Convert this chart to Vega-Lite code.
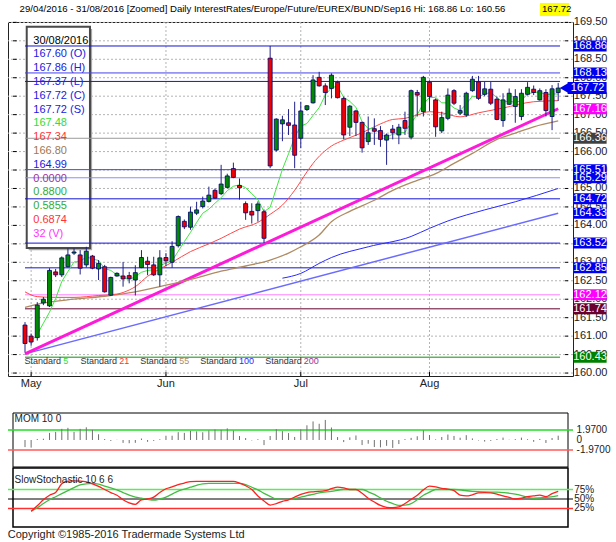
{
"$schema": "https://vega.github.io/schema/vega-lite/v6.json",
"width": 565,
"height": 354,
"autosize": {"type": "none"},
"padding": {"left": 8, "top": 22, "right": 43, "bottom": 166},
"background": "#ffffff",
"config": {"view": {"stroke": "#222222", "strokeWidth": 1}, "font": "Liberation Sans"},
"datasets": {
"ohlc": [
{"i":0,"o":161.30,"h":161.38,"l":160.56,"c":160.80,"s5":null,"m":-1.40},
{"i":1,"o":161.00,"h":161.07,"l":160.74,"c":160.84,"s5":160.85,"m":-1.50},
{"i":2,"o":160.96,"h":161.92,"l":160.88,"c":161.84,"s5":161.05,"m":0.20},
{"i":3,"o":161.90,"h":162.06,"l":161.84,"c":162.00,"s5":161.35,"m":0.25},
{"i":4,"o":161.82,"h":162.84,"l":161.79,"c":162.78,"s5":161.65,"m":1.40},
{"i":5,"o":162.74,"h":162.82,"l":162.60,"c":162.66,"s5":162.02,"m":1.60},
{"i":6,"o":162.66,"h":163.16,"l":162.60,"c":163.12,"s5":162.48,"m":2.20},
{"i":7,"o":162.88,"h":163.38,"l":162.86,"c":163.20,"s5":162.75,"m":2.40},
{"i":8,"o":163.25,"h":163.38,"l":163.20,"c":163.28,"s5":163.01,"m":1.60},
{"i":9,"o":163.20,"h":163.33,"l":162.67,"c":162.84,"s5":163.02,"m":2.20},
{"i":10,"o":162.93,"h":163.42,"l":162.86,"c":163.30,"s5":163.15,"m":2.50},
{"i":11,"o":163.17,"h":163.20,"l":162.81,"c":162.84,"s5":163.09,"m":2.00},
{"i":12,"o":162.82,"h":163.06,"l":162.52,"c":162.97,"s5":163.05,"m":1.13},
{"i":13,"o":162.88,"h":162.93,"l":162.18,"c":162.20,"s5":162.83,"m":0.20},
{"i":14,"o":162.11,"h":162.61,"l":162.09,"c":162.59,"s5":162.78,"m":-0.19},
{"i":15,"o":162.63,"h":162.73,"l":162.61,"c":162.70,"s5":162.66,"m":0.04},
{"i":16,"o":162.63,"h":163.01,"l":162.34,"c":162.55,"s5":162.60,"m":-0.57},
{"i":17,"o":162.64,"h":162.74,"l":162.43,"c":162.56,"s5":162.52,"m":-0.64},
{"i":18,"o":162.52,"h":162.92,"l":162.10,"c":162.72,"s5":162.62,"m":-0.56},
{"i":19,"o":162.86,"h":163.33,"l":162.84,"c":163.13,"s5":162.73,"m":0.29},
{"i":20,"o":163.03,"h":163.15,"l":162.65,"c":162.94,"s5":162.78,"m":-0.36},
{"i":21,"o":162.93,"h":163.15,"l":162.63,"c":162.66,"s5":162.80,"m":-0.18},
{"i":22,"o":162.66,"h":163.33,"l":162.34,"c":163.12,"s5":162.91,"m":0.15},
{"i":23,"o":163.13,"h":163.25,"l":162.90,"c":163.04,"s5":162.98,"m":0.84},
{"i":24,"o":163.00,"h":163.57,"l":162.85,"c":163.43,"s5":163.04,"m":0.84},
{"i":25,"o":163.45,"h":164.27,"l":163.40,"c":164.24,"s5":163.30,"m":1.54},
{"i":26,"o":164.11,"h":164.16,"l":163.90,"c":163.96,"s5":163.56,"m":1.41},
{"i":27,"o":163.95,"h":164.51,"l":163.88,"c":164.36,"s5":163.81,"m":1.80},
{"i":28,"o":164.33,"h":164.64,"l":164.28,"c":164.42,"s5":164.08,"m":1.70},
{"i":29,"o":164.51,"h":164.78,"l":164.46,"c":164.66,"s5":164.33,"m":1.53},
{"i":30,"o":164.65,"h":165.05,"l":164.62,"c":164.82,"s5":164.44,"m":1.88},
{"i":31,"o":164.95,"h":165.00,"l":164.72,"c":164.74,"s5":164.60,"m":2.08},
{"i":32,"o":164.86,"h":165.64,"l":164.82,"c":165.12,"s5":164.75,"m":2.00},
{"i":33,"o":165.03,"h":165.40,"l":165.00,"c":165.34,"s5":164.94,"m":2.30},
{"i":34,"o":165.54,"h":165.70,"l":165.28,"c":165.30,"s5":165.06,"m":1.87},
{"i":35,"o":165.08,"h":165.27,"l":164.70,"c":165.02,"s5":165.10,"m":0.78},
{"i":36,"o":164.59,"h":164.65,"l":164.15,"c":164.34,"s5":165.02,"m":0.38},
{"i":37,"o":164.38,"h":164.60,"l":164.05,"c":164.28,"s5":164.86,"m":-0.08},
{"i":38,"o":164.40,"h":164.65,"l":164.10,"c":164.58,"s5":164.70,"m":0.16},
{"i":39,"o":164.37,"h":164.43,"l":163.52,"c":163.65,"s5":164.37,"m":-1.01},
{"i":40,"o":168.53,"h":168.86,"l":165.55,"c":165.61,"s5":164.49,"m":0.79},
{"i":41,"o":166.04,"h":166.90,"l":166.00,"c":166.88,"s5":165.00,"m":2.14},
{"i":42,"o":166.75,"h":166.97,"l":166.28,"c":166.86,"s5":165.52,"m":1.74},
{"i":43,"o":166.78,"h":167.15,"l":166.45,"c":166.71,"s5":165.94,"m":1.37},
{"i":44,"o":166.72,"h":167.35,"l":165.55,"c":165.90,"s5":166.39,"m":0.60},
{"i":45,"o":166.36,"h":167.35,"l":166.09,"c":167.10,"s5":166.69,"m":2.08},
{"i":46,"o":167.14,"h":167.26,"l":167.10,"c":167.24,"s5":166.76,"m":2.90},
{"i":47,"o":167.32,"h":168.07,"l":167.30,"c":167.94,"s5":166.98,"m":3.66},
{"i":48,"o":168.01,"h":168.16,"l":167.76,"c":167.78,"s5":167.19,"m":3.20},
{"i":49,"o":167.78,"h":167.85,"l":167.26,"c":167.60,"s5":167.53,"m":3.95},
{"i":50,"o":167.71,"h":168.12,"l":167.44,"c":168.07,"s5":167.73,"m":2.46},
{"i":51,"o":167.88,"h":167.92,"l":167.44,"c":167.46,"s5":167.77,"m":0.58},
{"i":52,"o":167.44,"h":167.49,"l":166.33,"c":166.45,"s5":167.47,"m":-0.41},
{"i":53,"o":166.66,"h":167.26,"l":166.42,"c":167.23,"s5":167.36,"m":0.52},
{"i":54,"o":167.10,"h":167.13,"l":166.42,"c":166.79,"s5":167.20,"m":0.89},
{"i":55,"o":166.79,"h":166.81,"l":165.97,"c":166.10,"s5":166.81,"m":-1.00},
{"i":56,"o":166.27,"h":166.95,"l":166.18,"c":166.51,"s5":166.62,"m":-0.73},
{"i":57,"o":166.62,"h":166.90,"l":166.18,"c":166.55,"s5":166.64,"m":-1.39},
{"i":58,"o":166.57,"h":166.69,"l":166.13,"c":166.33,"s5":166.46,"m":-1.45},
{"i":59,"o":166.31,"h":166.49,"l":165.64,"c":166.45,"s5":166.39,"m":-1.15},
{"i":60,"o":166.61,"h":166.72,"l":166.33,"c":166.51,"s5":166.47,"m":-1.56},
{"i":61,"o":166.45,"h":166.75,"l":166.20,"c":166.66,"s5":166.50,"m":-0.80},
{"i":62,"o":166.84,"h":167.08,"l":166.45,"c":166.63,"s5":166.52,"m":0.18},
{"i":63,"o":166.39,"h":167.68,"l":166.33,"c":167.65,"s5":166.78,"m":0.42},
{"i":64,"o":167.60,"h":167.67,"l":166.95,"c":167.53,"s5":167.00,"m":0.74},
{"i":65,"o":167.08,"h":168.05,"l":166.95,"c":168.01,"s5":167.30,"m":1.91},
{"i":66,"o":167.88,"h":167.93,"l":167.10,"c":167.49,"s5":167.46,"m":0.98},
{"i":67,"o":167.40,"h":167.44,"l":166.40,"c":166.67,"s5":167.47,"m":0.12},
{"i":68,"o":166.56,"h":167.08,"l":166.50,"c":166.92,"s5":167.32,"m":0.59},
{"i":69,"o":166.90,"h":167.71,"l":166.85,"c":167.53,"s5":167.32,"m":1.08},
{"i":70,"o":167.65,"h":167.69,"l":167.26,"c":167.31,"s5":167.18,"m":0.80},
{"i":71,"o":167.04,"h":167.26,"l":166.99,"c":167.11,"s5":167.11,"m":0.45},
{"i":72,"o":166.99,"h":167.62,"l":166.94,"c":167.58,"s5":167.29,"m":0.95},
{"i":73,"o":167.65,"h":168.05,"l":167.62,"c":167.96,"s5":167.50,"m":0.31},
{"i":74,"o":167.89,"h":168.05,"l":167.40,"c":167.44,"s5":167.48,"m":-0.09},
{"i":75,"o":167.55,"h":167.89,"l":167.50,"c":167.70,"s5":167.56,"m":-0.31},
{"i":76,"o":167.69,"h":167.89,"l":167.26,"c":167.31,"s5":167.60,"m":-0.18},
{"i":77,"o":167.42,"h":167.49,"l":166.85,"c":166.87,"s5":167.46,"m":0.20},
{"i":78,"o":166.84,"h":167.58,"l":166.67,"c":167.40,"s5":167.34,"m":0.48},
{"i":79,"o":167.28,"h":167.71,"l":167.26,"c":167.58,"s5":167.37,"m":0.05},
{"i":80,"o":167.22,"h":167.69,"l":166.78,"c":167.49,"s5":167.33,"m":0.18},
{"i":81,"o":166.95,"h":167.69,"l":166.85,"c":167.58,"s5":167.38,"m":0.47},
{"i":82,"o":167.55,"h":167.88,"l":167.52,"c":167.74,"s5":167.56,"m":0.16},
{"i":83,"o":167.69,"h":167.79,"l":167.53,"c":167.60,"s5":167.60,"m":-0.36},
{"i":84,"o":167.40,"h":167.71,"l":167.38,"c":167.65,"s5":167.61,"m":0.21},
{"i":85,"o":167.60,"h":167.69,"l":166.95,"c":167.11,"s5":167.54,"m":-0.59},
{"i":86,"o":166.95,"h":167.80,"l":166.58,"c":167.70,"s5":167.56,"m":0.39},
{"i":87,"o":167.60,"h":167.86,"l":167.37,"c":167.72,"s5":167.56,"m":0.85}
],
"sma21": [
{"i":0,"p":162.20},{"i":2,"p":162.07},{"i":5,"p":162.05},{"i":8,"p":162.05},{"i":12,"p":162.10},{"i":15,"p":162.14},{"i":17,"p":162.25},{"i":18,"p":162.34},{"i":20,"p":162.62},{"i":22,"p":162.82},{"i":24,"p":163.00},{"i":27,"p":163.29},{"i":30,"p":163.50},{"i":32,"p":163.65},{"i":35,"p":163.90},{"i":38,"p":164.08},{"i":40,"p":164.30},{"i":42,"p":164.55},{"i":44,"p":164.95},{"i":46,"p":165.45},{"i":47,"p":165.68},{"i":50,"p":166.15},{"i":52,"p":166.31},{"i":55,"p":166.51},{"i":58,"p":166.75},{"i":60,"p":166.87},{"i":62,"p":166.90},{"i":64,"p":166.99},{"i":66,"p":167.08},{"i":68,"p":167.05},{"i":71,"p":166.94},{"i":74,"p":167.05},{"i":78,"p":167.18},{"i":83,"p":167.35},{"i":87,"p":167.38}
],
"sma55": [
{"i":0,"p":161.78},{"i":3,"p":161.90},{"i":8,"p":162.00},{"i":13,"p":162.08},{"i":18,"p":162.20},{"i":23,"p":162.38},{"i":28,"p":162.58},{"i":32,"p":162.76},{"i":36,"p":162.90},{"i":40,"p":163.06},{"i":43,"p":163.25},{"i":45,"p":163.42},{"i":48,"p":163.74},{"i":50,"p":164.10},{"i":53,"p":164.38},{"i":57,"p":164.68},{"i":60,"p":164.95},{"i":64,"p":165.22},{"i":67,"p":165.40},{"i":70,"p":165.68},{"i":73,"p":165.95},{"i":77,"p":166.33},{"i":80,"p":166.50},{"i":83,"p":166.67},{"i":87,"p":166.83}
],
"sma100": [
{"i":42,"p":162.57},{"i":45,"p":162.70},{"i":48,"p":162.97},{"i":50,"p":163.13},{"i":56,"p":163.42},{"i":63,"p":163.70},{"i":66,"p":163.92},{"i":69,"p":164.12},{"i":75,"p":164.42},{"i":80,"p":164.64},{"i":87,"p":165.00}
],
"trendM": [{"i":0,"p":160.52},{"i":87,"p":167.16}],
"trendB": [{"i":0,"p":160.52},{"i":87,"p":164.33}],
"yticks": [{"v":160},{"v":160.5},{"v":161},{"v":161.5},{"v":162},{"v":162.5},{"v":163},{"v":163.5},{"v":164},{"v":164.5},{"v":165},{"v":165.5},{"v":166},{"v":166.5},{"v":167},{"v":167.5},{"v":168},{"v":168.5},{"v":169},{"v":169.5}],
"months": [{"i":1,"t":"May"},{"i":23,"t":"Jun"},{"i":45,"t":"Jul"},{"i":66,"t":"Aug"}],
"levels": [
{"p":168.86,"kind":"level"},{"p":168.13,"kind":"level2"},{"p":167.90,"kind":"level"},{"p":166.36,"kind":"pivot"},{"p":165.51,"kind":"level2"},{"p":165.29,"kind":"level3"},{"p":164.72,"kind":"level"},{"p":163.52,"kind":"level"},{"p":162.85,"kind":"level"},{"p":162.12,"kind":"fib"},{"p":161.74,"kind":"floor"},{"p":160.43,"kind":"base"}
],
"tags": [
{"p":160.43,"t":"160.43","kind":"base"},{"p":161.74,"t":"161.74","kind":"floor"},{"p":162.12,"t":"162.12","kind":"fib"},{"p":162.85,"t":"162.85","kind":"level"},{"p":163.52,"t":"163.52","kind":"level"},{"p":164.33,"t":"164.33","kind":"level"},{"p":164.72,"t":"164.72","kind":"level"},{"p":165.29,"t":"165.29","kind":"level"},{"p":165.51,"t":"165.51","kind":"level"},{"p":166.36,"t":"166.36","kind":"pivot"},{"p":167.16,"t":"167.16","kind":"trend"},{"p":168.13,"t":"168.13","kind":"level"},{"p":168.86,"t":"168.86","kind":"level"}
],
"box": [
{"row":0,"t":"30/08/2016","g":"date"},{"row":1,"t":"167.60 (O)","g":"ohlc"},{"row":2,"t":"167.86 (H)","g":"ohlc"},{"row":3,"t":"167.37 (L)","g":"ohlc"},{"row":4,"t":"167.72 (C)","g":"ohlc"},{"row":5,"t":"167.72 (S)","g":"ohlc"},{"row":6,"t":"167.48","g":"s5"},{"row":7,"t":"167.34","g":"s21"},{"row":8,"t":"166.80","g":"s55"},{"row":9,"t":"164.99","g":"s100"},{"row":10,"t":"0.0000","g":"s200"},{"row":11,"t":"0.8800","g":"mom"},{"row":12,"t":"0.5855","g":"stochD"},{"row":13,"t":"0.6874","g":"stochK"},{"row":14,"t":"32 (V)","g":"vol"}
],
"stochK": [
{"i":1,"v":18},{"i":2,"v":32},{"i":3,"v":48},{"i":4,"v":60},{"i":5,"v":67},{"i":6,"v":90},{"i":7,"v":97},{"i":8,"v":97.5},{"i":9,"v":97},{"i":10,"v":95},{"i":11,"v":90},{"i":12,"v":83},{"i":13,"v":75},{"i":14,"v":67},{"i":15,"v":60},{"i":16,"v":48},{"i":17,"v":40},{"i":18,"v":36},{"i":19,"v":48},{"i":20,"v":50},{"i":21,"v":55},{"i":22,"v":67},{"i":23,"v":77},{"i":24,"v":82},{"i":25,"v":88},{"i":26,"v":92},{"i":27,"v":96},{"i":28,"v":96.5},{"i":30,"v":96.5},{"i":34,"v":96.5},{"i":35,"v":92},{"i":36,"v":85},{"i":37,"v":75},{"i":38,"v":58},{"i":39,"v":45},{"i":40,"v":34},{"i":41,"v":38},{"i":42,"v":44},{"i":43,"v":48},{"i":44,"v":55},{"i":45,"v":62},{"i":46,"v":67},{"i":47,"v":69},{"i":49,"v":72},{"i":50,"v":77},{"i":51,"v":81},{"i":52,"v":79},{"i":53,"v":75},{"i":54,"v":75},{"i":55,"v":65},{"i":56,"v":52},{"i":57,"v":42},{"i":58,"v":33},{"i":59,"v":28},{"i":60,"v":27},{"i":61,"v":29},{"i":62,"v":38},{"i":63,"v":49},{"i":64,"v":60},{"i":65,"v":74},{"i":66,"v":84},{"i":67,"v":82},{"i":68,"v":78},{"i":69,"v":76},{"i":70,"v":72},{"i":71,"v":60},{"i":72,"v":58},{"i":73,"v":61},{"i":74,"v":66},{"i":75,"v":67},{"i":76,"v":66},{"i":77,"v":63},{"i":78,"v":58},{"i":79,"v":54},{"i":80,"v":50},{"i":81,"v":52},{"i":82,"v":56},{"i":83,"v":58},{"i":84,"v":60},{"i":85,"v":56},{"i":86,"v":64},{"i":87,"v":70}
],
"stochD": [
{"i":1,"v":18},{"i":2,"v":27},{"i":3,"v":38},{"i":4,"v":48},{"i":5,"v":56},{"i":6,"v":64},{"i":7,"v":72},{"i":8,"v":80},{"i":9,"v":87},{"i":10,"v":90},{"i":11,"v":91},{"i":12,"v":89},{"i":13,"v":84},{"i":14,"v":79},{"i":15,"v":74},{"i":16,"v":67},{"i":17,"v":60},{"i":18,"v":55},{"i":19,"v":52},{"i":20,"v":49},{"i":21,"v":47},{"i":22,"v":50},{"i":23,"v":55},{"i":24,"v":63},{"i":25,"v":71},{"i":26,"v":76},{"i":27,"v":81},{"i":28,"v":86},{"i":29,"v":90},{"i":30,"v":91},{"i":35,"v":91},{"i":36,"v":88},{"i":37,"v":81},{"i":38,"v":74},{"i":39,"v":65},{"i":40,"v":57},{"i":41,"v":50},{"i":42,"v":49},{"i":43,"v":49},{"i":44,"v":51},{"i":45,"v":55},{"i":46,"v":59},{"i":47,"v":62},{"i":48,"v":66},{"i":50,"v":70},{"i":52,"v":75},{"i":55,"v":75},{"i":56,"v":69},{"i":57,"v":62},{"i":58,"v":53},{"i":59,"v":44},{"i":60,"v":38},{"i":61,"v":33},{"i":62,"v":34},{"i":63,"v":38},{"i":64,"v":48},{"i":65,"v":60},{"i":66,"v":68},{"i":67,"v":75},{"i":70,"v":75},{"i":73,"v":70},{"i":77,"v":68},{"i":80,"v":63},{"i":82,"v":55},{"i":83,"v":52},{"i":85,"v":54},{"i":87,"v":59}
]
},
"layer": [
{
"layer": [
{"data": {"name": "yticks"}, "mark": {"type": "rule", "color": "#b4b4b4", "strokeDash": [2, 2], "strokeWidth": 1},
 "encoding": {"y": {"field": "v", "type": "quantitative", "scale": {"domain": [159.92, 169.51], "nice": false, "zero": false}, "axis": null}}},
{"data": {"name": "months"}, "mark": {"type": "rule", "color": "#b4b4b4", "strokeDash": [2, 2], "strokeWidth": 1},
 "encoding": {"x": {"field": "i", "type": "quantitative", "scale": {"domain": [-1.96, 88.6], "nice": false, "zero": false}, "axis": null}}},
{"data": {"values": [{}]}, "mark": {"type": "rect", "fill": "#a8a8a8"},
 "encoding": {"x": {"datum": 0.6, "type": "quantitative", "axis": null}, "x2": {"datum": 10.95}, "y": {"datum": 169.32, "type": "quantitative", "axis": null}, "y2": {"datum": 163.33}}},
{"data": {"values": [{}]}, "mark": {"type": "rect", "fill": "#ffffff", "stroke": "#4a4a4a", "strokeWidth": 2},
 "encoding": {"x": {"datum": 0.28, "type": "quantitative", "axis": null}, "x2": {"datum": 10.6}, "y": {"datum": 169.38, "type": "quantitative", "axis": null}, "y2": {"datum": 163.39}}},
{"data": {"name": "levels"}, "mark": {"type": "rule"},
 "encoding": {"x": {"datum": 0, "type": "quantitative", "axis": null}, "x2": {"datum": 87.3}, "y": {"field": "p", "type": "quantitative", "axis": null},
  "stroke": {"field": "kind", "type": "nominal", "scale": {"domain": ["level","level2","level3","pivot","fib","floor","base"], "range": ["#1414d2","#4545e8","#8c8cff","#9a9a9a","#ff80ff","#66002e","#109010"]}, "legend": null},
  "strokeWidth": {"field": "kind", "type": "nominal", "scale": {"domain": ["level","level2","level3","pivot","fib","floor","base"], "range": [1,1,2.5,2,2,1,1]}, "legend": null}}},
{"data": {"name": "trendB"}, "mark": {"type": "line", "color": "#6b6bff", "strokeWidth": 1.5},
 "encoding": {"x": {"field": "i", "type": "quantitative", "axis": null}, "y": {"field": "p", "type": "quantitative", "axis": null}}},
{"data": {"name": "trendM"}, "mark": {"type": "line", "color": "#ff1ad9", "strokeWidth": 3},
 "encoding": {"x": {"field": "i", "type": "quantitative", "axis": null}, "y": {"field": "p", "type": "quantitative", "axis": null}}},
{"data": {"name": "sma100"}, "mark": {"type": "line", "color": "#2a2aff", "strokeWidth": 1, "interpolate": "monotone"},
 "encoding": {"x": {"field": "i", "type": "quantitative", "axis": null}, "y": {"field": "p", "type": "quantitative", "axis": null}}},
{"data": {"name": "sma55"}, "mark": {"type": "line", "color": "#b08b62", "strokeWidth": 1.3, "interpolate": "monotone"},
 "encoding": {"x": {"field": "i", "type": "quantitative", "axis": null}, "y": {"field": "p", "type": "quantitative", "axis": null}}},
{"data": {"name": "sma21"}, "mark": {"type": "line", "color": "#ff4a4a", "strokeWidth": 1, "interpolate": "monotone"},
 "encoding": {"x": {"field": "i", "type": "quantitative", "axis": null}, "y": {"field": "p", "type": "quantitative", "axis": null}}},
{"data": {"name": "ohlc"}, "mark": {"type": "line", "color": "#3ee83e", "strokeWidth": 1},
 "encoding": {"x": {"field": "i", "type": "quantitative", "axis": null}, "y": {"field": "s5", "type": "quantitative", "axis": null}}},
{"data": {"name": "ohlc"}, "mark": {"type": "rule", "color": "#202088", "strokeWidth": 1},
 "encoding": {"x": {"field": "i", "type": "quantitative", "axis": null}, "y": {"field": "l", "type": "quantitative", "axis": null}, "y2": {"field": "h"}}},
{"data": {"name": "ohlc"}, "mark": {"type": "bar", "width": 4, "stroke": "#000070", "strokeWidth": 0.8},
 "encoding": {"x": {"field": "i", "type": "quantitative", "axis": null}, "y": {"field": "o", "type": "quantitative", "axis": null}, "y2": {"field": "c"},
  "fill": {"condition": {"test": "datum.c >= datum.o", "value": "#008a00"}, "value": "#f00000"}}},
{"data": {"name": "yticks"}, "mark": {"type": "rule", "color": "#000000", "strokeWidth": 1},
 "encoding": {"x": {"datum": 88.12, "type": "quantitative", "axis": null}, "x2": {"datum": 88.6}, "y": {"field": "v", "type": "quantitative", "axis": null}}},
{"data": {"name": "yticks"}, "mark": {"type": "rule", "color": "#000000", "strokeWidth": 1},
 "encoding": {"x": {"datum": -1.96, "type": "quantitative", "axis": null}, "x2": {"datum": -1.36}, "y": {"field": "v", "type": "quantitative", "axis": null}}},
{"data": {"name": "months"}, "mark": {"type": "rule", "color": "#000000", "strokeWidth": 1},
 "encoding": {"x": {"field": "i", "type": "quantitative", "axis": null}, "y": {"datum": 159.92, "type": "quantitative", "axis": null}, "y2": {"datum": 160.03}}},
{"data": {"name": "yticks"}, "mark": {"type": "text", "align": "left", "baseline": "middle", "fontSize": 11, "color": "#222222"},
 "encoding": {"x": {"datum": 89.55, "type": "quantitative", "axis": null}, "y": {"field": "v", "type": "quantitative", "axis": null}, "text": {"field": "v", "type": "quantitative", "format": ".2f"}}},
{"data": {"name": "months"}, "mark": {"type": "text", "align": "center", "baseline": "middle", "fontSize": 11, "color": "#222222"},
 "encoding": {"x": {"field": "i", "type": "quantitative", "axis": null}, "y": {"datum": 159.70, "type": "quantitative", "axis": null}, "text": {"field": "t"}}},
{"data": {"name": "tags"}, "mark": {"type": "rect", "yOffset": -5.5, "y2Offset": 5.5},
 "encoding": {"x": {"datum": 89.54, "type": "quantitative", "axis": null}, "x2": {"datum": 94.9}, "y": {"field": "p", "type": "quantitative", "axis": null}, "y2": {"field": "p"},
  "fill": {"field": "kind", "type": "nominal", "scale": {"domain": ["level","trend","pivot","fib","floor","base"], "range": ["#0000f0","#ff00ff","#404040","#ff00ff","#6b0030","#008000"]}, "legend": null}}},
{"data": {"name": "tags"}, "mark": {"type": "text", "align": "center", "baseline": "middle", "fontSize": 11, "color": "#ffffff"},
 "encoding": {"x": {"datum": 92.2, "type": "quantitative", "axis": null}, "y": {"field": "p", "type": "quantitative", "axis": null}, "text": {"field": "t"}}},
{"data": {"values": [{"p": 167.72, "t": "167.72"}]}, "mark": {"type": "rect", "yOffset": -6, "y2Offset": 6, "fill": "#0000f0"},
 "encoding": {"x": {"datum": 88.54, "type": "quantitative", "axis": null}, "x2": {"datum": 94.9}, "y": {"field": "p", "type": "quantitative", "axis": null}, "y2": {"field": "p"}}},
{"data": {"values": [{"p": 167.72, "t": "167.72"}]}, "mark": {"type": "point", "shape": "triangle-left", "size": 110, "filled": true, "color": "#0000f0", "opacity": 1},
 "encoding": {"x": {"datum": 88.0, "type": "quantitative", "axis": null}, "y": {"field": "p", "type": "quantitative", "axis": null}}},
{"data": {"values": [{"p": 167.72, "t": "167.72"}]}, "mark": {"type": "text", "align": "center", "baseline": "middle", "fontSize": 11, "color": "#ffffff"},
 "encoding": {"x": {"datum": 91.8, "type": "quantitative", "axis": null}, "y": {"field": "p", "type": "quantitative", "axis": null}, "text": {"field": "t"}}},
{"data": {"values": [{}]}, "mark": {"type": "text", "align": "left", "baseline": "middle", "fontSize": 9.6, "color": "#000000", "text": "29/04/2016 - 31/08/2016 [Zoomed] Daily InterestRates/Europe/Future/EUREX/BUND/Sep16 Hi: 168.86 Lo: 160.56"},
 "encoding": {"x": {"datum": -0.89, "type": "quantitative", "axis": null}, "y": {"datum": 169.863, "type": "quantitative", "axis": null}}},
{"data": {"values": [{}]}, "mark": {"type": "rect", "fill": "#ffff00"},
 "encoding": {"x": {"datum": 84.03, "type": "quantitative", "axis": null}, "x2": {"datum": 88.75}, "y": {"datum": 170.026, "type": "quantitative", "axis": null}, "y2": {"datum": 169.673}}},
{"data": {"values": [{}]}, "mark": {"type": "text", "align": "left", "baseline": "middle", "fontSize": 9.6, "color": "#000000", "text": "167.72"},
 "encoding": {"x": {"datum": 84.36, "type": "quantitative", "axis": null}, "y": {"datum": 169.863, "type": "quantitative", "axis": null}}},
{"data": {"values": [{}]}, "mark": {"type": "text", "align": "left", "baseline": "middle", "fontSize": 9, "color": "#333333", "text": "Standard"},
 "encoding": {"x": {"datum": -0.09, "type": "quantitative", "axis": null}, "y": {"datum": 160.32, "type": "quantitative", "axis": null}}},
{"data": {"values": [{}]}, "mark": {"type": "text", "align": "left", "baseline": "middle", "fontSize": 9, "color": "#33dd33", "text": "5"},
 "encoding": {"x": {"datum": 6.24, "type": "quantitative", "axis": null}, "y": {"datum": 160.32, "type": "quantitative", "axis": null}}},
{"data": {"values": [{}]}, "mark": {"type": "text", "align": "left", "baseline": "middle", "fontSize": 9, "color": "#333333", "text": "Standard"},
 "encoding": {"x": {"datum": 9.04, "type": "quantitative", "axis": null}, "y": {"datum": 160.32, "type": "quantitative", "axis": null}}},
{"data": {"values": [{}]}, "mark": {"type": "text", "align": "left", "baseline": "middle", "fontSize": 9, "color": "#ff3333", "text": "21"},
 "encoding": {"x": {"datum": 15.38, "type": "quantitative", "axis": null}, "y": {"datum": 160.32, "type": "quantitative", "axis": null}}},
{"data": {"values": [{}]}, "mark": {"type": "text", "align": "left", "baseline": "middle", "fontSize": 9, "color": "#333333", "text": "Standard"},
 "encoding": {"x": {"datum": 18.82, "type": "quantitative", "axis": null}, "y": {"datum": 160.32, "type": "quantitative", "axis": null}}},
{"data": {"values": [{}]}, "mark": {"type": "text", "align": "left", "baseline": "middle", "fontSize": 9, "color": "#b08b62", "text": "55"},
 "encoding": {"x": {"datum": 25.15, "type": "quantitative", "axis": null}, "y": {"datum": 160.32, "type": "quantitative", "axis": null}}},
{"data": {"values": [{}]}, "mark": {"type": "text", "align": "left", "baseline": "middle", "fontSize": 9, "color": "#333333", "text": "Standard"},
 "encoding": {"x": {"datum": 28.6, "type": "quantitative", "axis": null}, "y": {"datum": 160.32, "type": "quantitative", "axis": null}}},
{"data": {"values": [{}]}, "mark": {"type": "text", "align": "left", "baseline": "middle", "fontSize": 9, "color": "#2a2aff", "text": "100"},
 "encoding": {"x": {"datum": 34.93, "type": "quantitative", "axis": null}, "y": {"datum": 160.32, "type": "quantitative", "axis": null}}},
{"data": {"values": [{}]}, "mark": {"type": "text", "align": "left", "baseline": "middle", "fontSize": 9, "color": "#333333", "text": "Standard"},
 "encoding": {"x": {"datum": 39.2, "type": "quantitative", "axis": null}, "y": {"datum": 160.32, "type": "quantitative", "axis": null}}},
{"data": {"values": [{}]}, "mark": {"type": "text", "align": "left", "baseline": "middle", "fontSize": 9, "color": "#993399", "text": "200"},
 "encoding": {"x": {"datum": 45.5, "type": "quantitative", "axis": null}, "y": {"datum": 160.32, "type": "quantitative", "axis": null}}}
]
},
{"data": {"name": "box"}, "mark": {"type": "text", "align": "left", "baseline": "middle", "fontSize": 11},
 "encoding": {"x": {"datum": 1.35, "type": "quantitative", "axis": null},
  "y": {"field": "row", "type": "quantitative", "scale": {"domain": [-1.355, 24.3], "reverse": true, "nice": false, "zero": false}, "axis": null},
  "text": {"field": "t"},
  "color": {"field": "g", "type": "nominal", "scale": {"domain": ["date","ohlc","s5","s21","s55","s100","s200","mom","stochD","stochK","vol"], "range": ["#000000","#2020e0","#33dd33","#ff3333","#a07850","#2020e0","#993399","#33aa33","#33aa33","#ff3333","#ff33ff"]}, "legend": null}}},
{
"layer": [
{"data": {"values": [{}]}, "mark": {"type": "rect", "fillOpacity": 0, "stroke": "#000000", "strokeWidth": 1},
 "encoding": {"x": {"datum": -1.96, "type": "quantitative", "axis": null}, "x2": {"datum": 88.6}, "y": {"datum": -5.32, "type": "quantitative", "axis": null}, "y2": {"datum": 5.32}}},
{"data": {"values": [{}]}, "mark": {"type": "rule", "color": "#22dd22", "strokeWidth": 1.5},
 "encoding": {"y": {"datum": 1.97, "type": "quantitative", "axis": null}}},
{"data": {"values": [{}]}, "mark": {"type": "rule", "color": "#ff5a5a", "strokeWidth": 1.5},
 "encoding": {"y": {"datum": -1.97, "type": "quantitative", "axis": null}}},
{"data": {"name": "ohlc"}, "mark": {"type": "rule", "color": "#707070", "strokeWidth": 1},
 "encoding": {"x": {"field": "i", "type": "quantitative", "scale": {"domain": [-1.96, 88.6], "nice": false, "zero": false}, "axis": null},
  "y": {"field": "m", "type": "quantitative", "scale": {"domain": [-5.32, 5.32], "range": [445, 391], "nice": false, "zero": false}, "axis": null},
  "y2": {"datum": 0}}},
{"data": {"values": [{}]}, "mark": {"type": "text", "align": "left", "baseline": "middle", "fontSize": 10, "color": "#222222", "text": "MOM 10 0"},
 "encoding": {"x": {"datum": -1.7, "type": "quantitative", "axis": null}, "y": {"datum": 4.14, "type": "quantitative", "axis": null}}},
{"data": {"values": [{"v": 1.97, "t": "1.9700"}, {"v": 0, "t": "0"}, {"v": -1.97, "t": "-1.9700"}]}, "mark": {"type": "text", "align": "left", "baseline": "middle", "fontSize": 10, "color": "#222222"},
 "encoding": {"x": {"datum": 90.0, "type": "quantitative", "axis": null}, "y": {"field": "v", "type": "quantitative", "axis": null}, "text": {"field": "t"}}}
]
},
{
"layer": [
{"data": {"values": [{}]}, "mark": {"type": "rect", "fillOpacity": 0, "stroke": "#000000", "strokeWidth": 1.5},
 "encoding": {"x": {"datum": -1.96, "type": "quantitative", "axis": null}, "x2": {"datum": 88.6}, "y": {"datum": -23.7, "type": "quantitative", "axis": null}, "y2": {"datum": 131.6}}},
{"data": {"values": [{}]}, "mark": {"type": "rule", "color": "#55ee55", "strokeWidth": 1.5},
 "encoding": {"y": {"datum": 75, "type": "quantitative", "axis": null}}},
{"data": {"values": [{}]}, "mark": {"type": "rule", "color": "#000000", "strokeWidth": 1},
 "encoding": {"y": {"datum": 50, "type": "quantitative", "axis": null}}},
{"data": {"values": [{}]}, "mark": {"type": "rule", "color": "#ff3030", "strokeWidth": 1.5},
 "encoding": {"y": {"datum": 25, "type": "quantitative", "axis": null}}},
{"data": {"name": "stochD"}, "mark": {"type": "line", "color": "#44bb44", "strokeWidth": 1.3, "interpolate": "monotone"},
 "encoding": {"x": {"field": "i", "type": "quantitative", "scale": {"domain": [-1.96, 88.6], "nice": false, "zero": false}, "axis": null},
  "y": {"field": "v", "type": "quantitative", "scale": {"domain": [-23.7, 131.6], "range": [505, 446], "nice": false, "zero": false}, "axis": null}}},
{"data": {"name": "stochK"}, "mark": {"type": "line", "color": "#ff2020", "strokeWidth": 1.3, "interpolate": "monotone"},
 "encoding": {"x": {"field": "i", "type": "quantitative", "axis": null}, "y": {"field": "v", "type": "quantitative", "axis": null}}},
{"data": {"values": [{}]}, "mark": {"type": "text", "align": "left", "baseline": "middle", "fontSize": 10, "color": "#222222", "text": "SlowStochastic 10 6 6"},
 "encoding": {"x": {"datum": -1.7, "type": "quantitative", "axis": null}, "y": {"datum": 100, "type": "quantitative", "axis": null}}},
{"data": {"values": [{"v": 75, "t": "75%"}, {"v": 50, "t": "50%"}, {"v": 25, "t": "25%"}]}, "mark": {"type": "text", "align": "left", "baseline": "middle", "fontSize": 10, "color": "#222222"},
 "encoding": {"x": {"datum": 89.6, "type": "quantitative", "axis": null}, "y": {"field": "v", "type": "quantitative", "axis": null}, "text": {"field": "t"}}},
{"data": {"values": [{}]}, "mark": {"type": "text", "align": "left", "baseline": "middle", "fontSize": 11, "color": "#222222", "text": "Copyright ©1985-2016 Tradermade Systems Ltd"},
 "encoding": {"x": {"datum": -2.81, "type": "quantitative", "axis": null}, "y": {"datum": -44.7, "type": "quantitative", "axis": null}}}
]
}
],
"resolve": {"scale": {"y": "independent"}}
}
